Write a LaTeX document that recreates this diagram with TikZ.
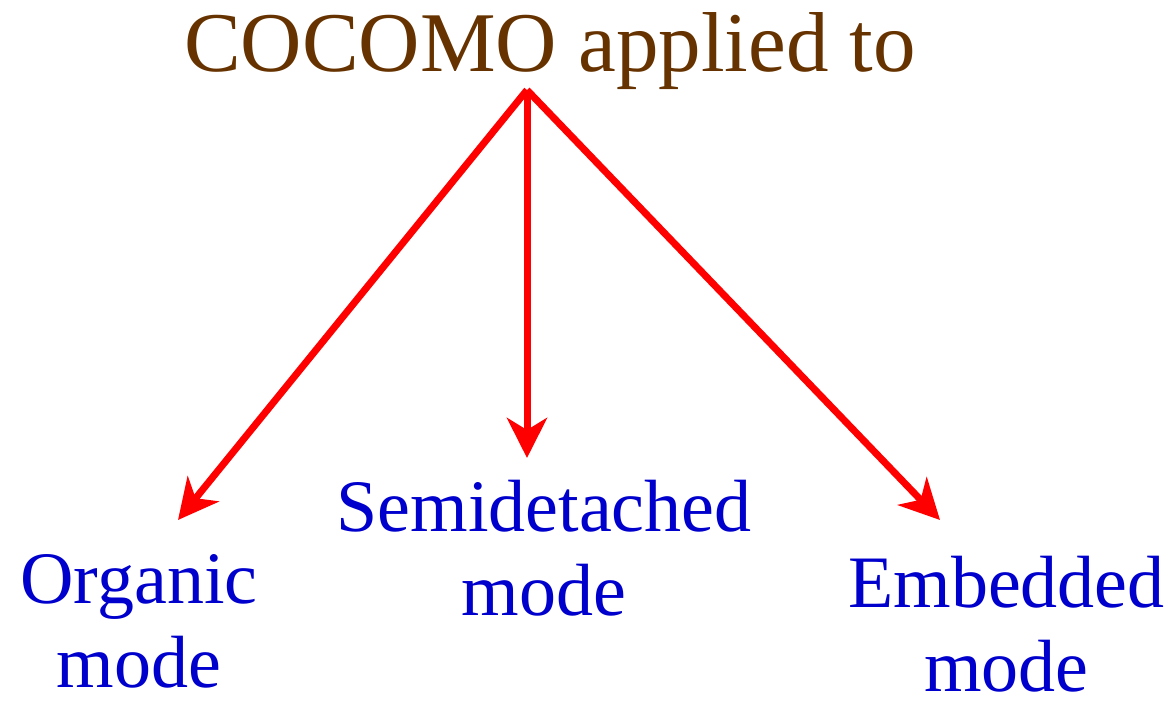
\documentclass[tikz,border=0pt]{standalone}
\usepackage{fontspec}
\setmainfont{Liberation Serif}
\usetikzlibrary{arrows.meta}
\definecolor{titlebrown}{RGB}{102,51,0}
\definecolor{modeblue}{RGB}{0,0,204}
\definecolor{arrowred}{RGB}{255,0,0}
\begin{document}
\begin{tikzpicture}[x=0.5pt,y=-0.5pt,
  titletext/.style={inner sep=0pt,text=titlebrown,font=\fontsize{42.5}{48}\selectfont},
  modetext/.style={inner sep=0pt,text=modeblue,align=center,anchor=north,font=\fontsize{37}{42}\selectfont},
  redarrow/.style={draw=arrowred,line width=3.5pt,-{Stealth[length=20pt,width=20pt,inset=6pt]}}]
\useasboundingbox (0,0) rectangle (1172,704);
\node[titletext,anchor=base] (title) at (550,72) {COCOMO applied to};
\coordinate (src) at (527,90);
\node[modetext] (organic) at (139,554) {Organic\\mode};
\node[modetext] (semi) at (544,480) {Semidetached\\mode};
\node[modetext] (embedded) at (1006.5,556) {Embedded\\mode};
\coordinate (tipO) at (178,520);
\coordinate (tipS) at (527,458);
\coordinate (tipE) at (940,520);
\draw[redarrow] (src) -- (tipO);
\draw[redarrow] (src) -- (tipS);
\draw[redarrow] (src) -- (tipE);
\end{tikzpicture}
\end{document}
